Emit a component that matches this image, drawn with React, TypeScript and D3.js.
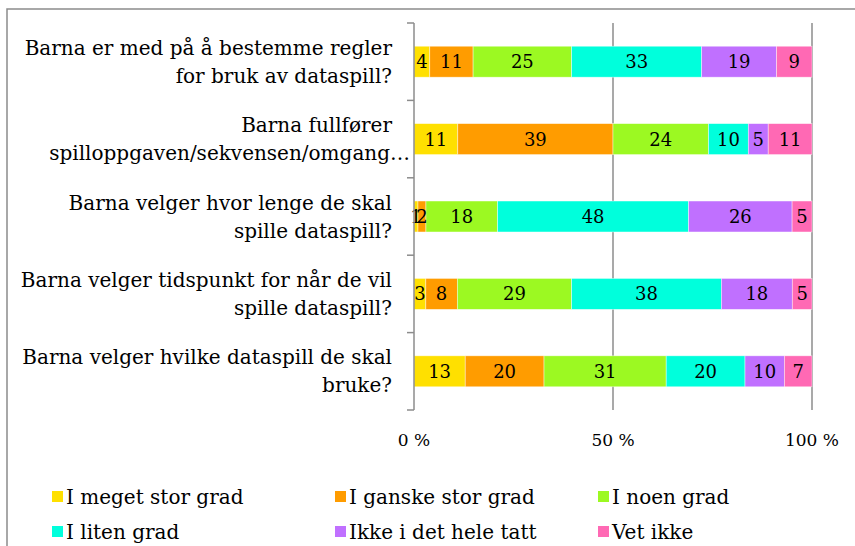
import React from "react";
import * as d3 from "d3";

const categories = [
  "Barna er med på å bestemme regler\nfor bruk av dataspill?",
  "Barna fullfører\nspilloppgaven/sekvensen/omgang…",
  "Barna velger hvor lenge de skal\nspille dataspill?",
  "Barna velger tidspunkt for når de vil\nspille dataspill?",
  "Barna velger hvilke dataspill de skal\nbruke?",
];
const seriesNames = [
  "I meget stor grad",
  "I ganske stor grad",
  "I noen grad",
  "I liten grad",
  "Ikke i det hele tatt",
  "Vet ikke",
];
const meget = [4, 11, 1, 3, 13];
const ganske = [11, 39, 2, 8, 20];
const noen = [25, 24, 18, 29, 31];
const liten = [33, 10, 48, 38, 20];
const ikke = [19, 5, 26, 18, 10];
const vetIkke = [9, 11, 5, 5, 7];
const colors = ["#FFE000", "#FF9C00", "#9CF922", "#00FFDC", "#C070FF", "#FF69B4"];
const xTicks = [0, 0.5, 1];
const xTickLabels = ["0 %", "50 %", "100 %"];

const FONT = "'DejaVu Serif', serif";

export default function App() {
  const W = 855, H = 546;
  const series = [meget, ganske, noen, liten, ikke, vetIkke];
  const rows = categories.map((c, i) => {
    const o: any = { cat: c };
    seriesNames.forEach((s, j) => (o[s] = series[j][i]));
    return o;
  });
  const stacked = d3.stack<any>().keys(seriesNames).offset(d3.stackOffsetExpand)(rows);
  const x = d3.scaleLinear().domain([0, 1]).range([414, 812]);
  const y = d3.scaleBand<string>().domain(categories).range([23, 410]).paddingInner(0.6).paddingOuter(0.3);
  const step = y.step();
  const gray = "#8c8c8c";

  return (
    <svg width={W} height={H} style={{ position: "absolute", left: 0, top: 0, background: "#fff" }} fontFamily={FONT}>
      <rect x={0} y={0} width={W} height={H} fill="#fff" />
      <path d={`M7,${H} V9 H${W}`} fill="none" stroke={gray} strokeWidth={1.5} />
      {xTicks.slice(1).map((t) => (
        <line key={t} x1={x(t)} x2={x(t)} y1={23} y2={410} stroke={gray} strokeWidth={1.5} />
      ))}
      {stacked.map((s, j) => (
        <g key={s.key}>
          {s.map((d, i) => {
            const yy = y(categories[i])!;
            const x0 = x(d[0]), x1 = x(d[1]);
            return (
              <rect key={i} x={x0} y={yy} width={x1 - x0} height={y.bandwidth()} fill={colors[j]} stroke="#fff" strokeOpacity={0.6} strokeWidth={0.7} />
            );
          })}
        </g>
      ))}
      {stacked.map((s, j) => (
        <g key={"l" + s.key}>
          {s.map((d, i) => {
            const yy = y(categories[i])! + y.bandwidth() / 2;
            const xc = (x(d[0]) + x(d[1])) / 2;
            return (
              <text key={i} x={xc} y={yy} textAnchor="middle" dominantBaseline="central" fontSize={18} fill="#000">
                {series[j][i]}
              </text>
            );
          })}
        </g>
      ))}
      <line x1={414} x2={414} y1={23} y2={410} stroke={gray} strokeWidth={1.5} />
      {d3.range(categories.length + 1).map((k) => {
        const yy = 23 + k * step;
        return <line key={k} x1={407} x2={414} y1={yy} y2={yy} stroke={gray} strokeWidth={1.5} />;
      })}
      {categories.map((c) => {
        const cy = y(c)! + y.bandwidth() / 2;
        const lines = c.split("\n");
        return lines.map((ln, k) => (
          <text
            key={c + k}
            x={ln.endsWith("…") ? 410 : 392}
            y={cy + (k - (lines.length - 1) / 2) * 28}
            textAnchor="end"
            dominantBaseline="central"
            fontSize={20}
            fill="#000"
          >
            {ln}
          </text>
        ));
      })}
      {xTicks.map((t, i) => (
        <text key={t} x={x(t)} y={440} textAnchor="middle" dominantBaseline="central" fontSize={17} fill="#000">
          {xTickLabels[i]}
        </text>
      ))}
      {seriesNames.map((s, j) => {
        const col = j % 3, row = Math.floor(j / 3);
        const lx = [52, 335, 598][col];
        const ly = [497, 532][row];
        return (
          <g key={s}>
            <rect x={lx} y={ly - 6} width={11} height={11} fill={colors[j]} />
            <text x={lx + 14} y={ly} dominantBaseline="central" fontSize={20} fill="#000">
              {s}
            </text>
          </g>
        );
      })}
    </svg>
  );
}
